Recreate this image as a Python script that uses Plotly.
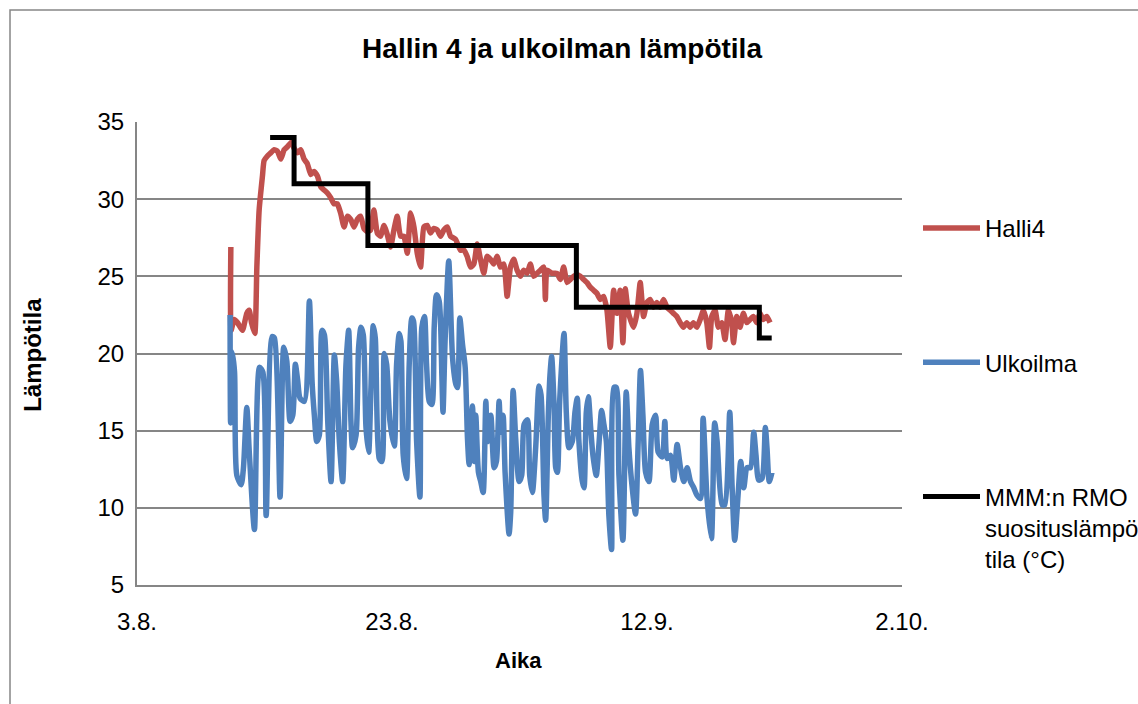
import plotly.graph_objects as go

# x values: days since 3.8.
tick_vals = [0, 20, 40, 60]
tick_text = ["3.8.", "23.8.", "12.9.", "2.10."]

halli4_day = [7.36, 7.38, 7.62, 7.88, 8.27, 8.61, 8.80, 8.98, 9.24, 9.40, 9.58, 9.84, 9.97, 10.23,
              10.49, 10.75, 11.02, 11.28, 11.54, 11.80, 12.14, 12.32, 12.58, 12.84, 13.10, 13.36,
              13.63, 13.89, 14.15, 14.41, 14.67, 14.93, 15.19, 15.45, 15.71, 15.97, 16.24, 16.50,
              16.76, 17.02, 17.28, 17.54, 17.80, 18.06, 18.32, 18.58, 18.85, 19.11, 19.37, 19.63,
              19.89, 20.15, 20.41, 20.67, 20.93, 21.20, 21.46, 21.72, 21.98, 22.24, 22.50, 22.76,
              23.02, 23.28, 23.55, 23.81, 24.07, 24.33, 24.59, 24.98, 25.37, 25.63, 25.89, 26.16,
              26.42, 26.68, 26.94, 27.20, 27.46, 27.72, 27.98, 28.24, 28.50, 28.77, 29.03, 29.29,
              29.55, 29.81, 30.07, 30.33, 30.59, 30.85, 31.11, 31.38, 31.64, 31.90, 32.03, 32.16,
              32.55, 32.94, 33.20, 33.46, 33.73, 33.99, 34.25, 34.51, 34.77, 35.03, 35.29, 35.55,
              35.81, 36.07, 36.34, 36.60, 36.86, 37.12, 37.38, 37.64, 37.90, 38.11, 38.29, 38.55,
              38.95, 39.21, 39.47, 39.73, 39.99, 40.25, 40.51, 40.77, 41.03, 41.30, 41.56, 41.82,
              42.08, 42.34, 42.60, 42.86, 43.12, 43.38, 43.64, 43.91, 44.17, 44.43, 44.69, 44.90,
              45.08, 45.34, 45.60, 45.86, 46.12, 46.38, 46.65, 46.78, 47.04, 47.30, 47.56, 47.82,
              48.08, 48.34, 48.60, 48.86, 49.13, 49.39, 49.65]
halli4_temp = [26.9, 21.5, 22.2, 22.0, 21.5, 22.6, 22.8, 22.0, 21.3, 25.6, 29.3, 31.5, 32.5, 32.8,
               33.0, 33.2, 33.1, 32.6, 33.2, 33.4, 33.7, 33.3, 33.0, 33.2, 32.6, 32.3,
               31.6, 31.8, 31.5, 30.8, 30.6, 30.4, 30.1, 29.7, 29.7, 29.1, 28.2, 28.9,
               28.7, 28.2, 28.7, 28.9, 28.1, 27.9, 28.0, 29.3, 27.8, 27.6, 28.3, 27.7,
               26.9, 28.0, 28.9, 27.6, 27.6, 26.5, 29.1, 28.2, 26.5, 25.6, 28.2, 28.3,
               27.8, 28.1, 28.0, 27.6, 28.0, 28.2, 27.6, 27.4, 26.7, 26.7, 26.3, 25.6,
               25.8, 27.1, 26.1, 25.2, 26.3, 26.1, 25.8, 26.3, 25.6, 25.8, 23.7, 25.6,
               26.1, 25.4, 25.0, 25.4, 25.2, 25.8, 25.0, 25.2, 25.4, 25.6, 23.5, 25.4,
               25.2, 25.2, 24.8, 25.6, 24.6, 24.8, 25.0, 25.1, 25.0, 24.8, 24.6, 24.3,
               24.1, 23.9, 23.5, 23.7, 22.8, 20.4, 24.1, 22.6, 24.1, 20.7, 24.2, 22.6,
               21.7, 22.6, 24.6, 22.4, 23.3, 23.5, 23.0, 23.3, 23.0, 23.5, 23.0, 22.8,
               22.6, 22.4, 22.0, 21.7, 22.0, 21.7, 22.0, 21.7, 22.2, 22.8, 22.0, 20.4,
               22.4, 22.8, 21.7, 22.0, 20.9, 22.8, 22.0, 20.7, 22.4, 21.7, 22.6, 22.0,
               22.2, 22.4, 22.0, 22.6, 22.2, 22.4, 22.0]

ulkoilma_day = [7.30, 7.34, 7.47, 7.65, 7.83, 8.17, 8.35, 8.61, 8.82, 9.21, 9.61, 9.87, 10.13, 10.60,
                10.78, 11.22, 11.51, 11.75, 12.01, 12.22, 12.42, 12.61, 12.79, 13.13, 13.52, 13.73,
                13.91, 14.10, 14.30, 14.51, 14.70, 14.96, 15.22, 15.48, 15.66, 15.87, 16.13, 16.39,
                16.60, 16.78, 16.91, 17.18, 17.38, 17.57, 17.75, 17.96, 18.17, 18.35, 18.53, 18.69,
                19.00, 19.21, 19.39, 19.58, 19.84, 20.18, 20.36, 20.57, 20.70, 20.88, 21.14, 21.35,
                21.56, 21.69, 21.93, 22.19, 22.34, 22.55, 22.71, 22.92, 23.13, 23.31, 23.49, 23.70,
                23.91, 24.00, 24.17, 24.45, 24.75, 25.01, 25.14, 25.32, 25.53, 25.74, 25.92, 26.05,
                26.31, 26.44, 26.57, 26.78, 26.96, 27.15, 27.36, 27.49, 27.75, 28.01, 28.19, 28.40,
                28.53, 28.71, 28.87, 29.18, 29.31, 29.50, 29.70, 29.97, 30.17, 30.36, 30.62, 30.80,
                31.01, 31.27, 31.53, 31.69, 31.92, 32.05, 32.26, 32.39, 32.52, 32.71, 32.84, 32.97,
                33.15, 33.49, 33.67, 33.88, 34.14, 34.35, 34.53, 34.66, 34.93, 35.06, 35.24, 35.40,
                35.58, 35.76, 36.02, 36.23, 36.44, 36.62, 36.81, 37.01, 37.22, 37.41, 37.59, 37.80,
                38.11, 38.37, 38.58, 38.84, 39.10, 39.31, 39.49, 39.68, 39.89, 40.15, 40.41, 40.67,
                40.88, 41.19, 41.40, 41.58, 41.84, 42.10, 42.36, 42.63, 42.89, 43.15, 43.41, 43.67,
                43.93, 44.19, 44.40, 44.71, 45.05, 45.31, 45.50, 45.89, 46.10, 46.49, 46.67, 46.88,
                47.14, 47.35, 47.59, 47.85, 48.11, 48.37, 48.55, 48.76, 49.02, 49.28, 49.41, 49.59,
                49.80]
ulkoilma_temp = [22.5, 15.5, 20.1, 18.8, 12.1, 11.5, 12.6, 16.5, 13.4, 8.6, 19.1, 18.8, 9.5, 21.1,
                 21.0, 10.7, 20.4, 19.5, 15.6, 16.0, 19.3, 18.2, 17.1, 16.9, 23.4, 18.2,
                 16.0, 14.3, 14.7, 21.5, 21.2, 15.6, 11.7, 19.9, 18.2, 14.3, 11.7, 19.3,
                 21.5, 15.6, 13.9, 14.7, 20.4, 21.7, 21.2, 15.2, 13.6, 17.8, 21.8, 21.0,
                 13.2, 13.0, 20.0, 19.3, 15.6, 14.0, 19.3, 21.3, 20.8, 13.4, 11.9, 19.3,
                 22.3, 22.1, 14.3, 10.7, 21.7, 22.4, 19.3, 16.9, 16.7, 21.7, 23.8, 23.4,
                 18.6, 16.2, 21.0, 26.0, 19.7, 18.0, 17.8, 22.3, 20.6, 19.1, 14.5, 12.8,
                 16.6, 13.0, 16.0, 12.3, 11.7, 11.0, 16.9, 14.3, 16.0, 12.6, 13.0, 16.9,
                 14.9, 16.0, 12.3, 8.3, 9.7, 17.6, 14.5, 11.7, 12.1, 15.4, 15.7, 12.1,
                 11.0, 13.9, 17.9, 17.3, 10.8, 9.2, 16.0, 18.6, 19.8, 16.7, 12.6, 12.3,
                 16.9, 21.3, 16.2, 13.9, 14.3, 16.2, 17.1, 14.3, 11.7, 11.3, 16.2, 17.2,
                 15.2, 13.4, 12.1, 14.1, 16.3, 15.4, 14.3, 9.5, 7.3, 17.8, 17.8, 12.1,
                 7.9, 17.5, 13.9, 11.3, 9.6, 14.3, 18.9, 16.0, 12.3, 11.7, 15.4, 16.0,
                 13.6, 13.3, 15.6, 13.2, 13.4, 11.8, 14.1, 12.6, 11.7, 12.6, 11.7, 11.3,
                 10.8, 10.6, 15.8, 10.6, 8.0, 15.5, 14.3, 10.2, 10.2, 16.2, 11.5, 7.9,
                 10.8, 13.0, 11.3, 12.6, 12.6, 14.9, 13.4, 11.8, 11.9, 15.2, 13.9, 11.7,
                 12.3]

rmo_day = [10.44, 12.32, 18.11, 34.46, 48.81, 49.78]
rmo_temp = [34, 31, 27, 23, 21, 21]

FONT = "Liberation Sans, Arial, sans-serif"

fig = go.Figure()
fig.add_trace(go.Scatter(x=halli4_day, y=halli4_temp, mode="lines", name="Halli4",
                         legendgroup="a",
                         line=dict(color="#C0504D", width=5.5, shape="spline", smoothing=0.5)))
fig.add_trace(go.Scatter(x=ulkoilma_day, y=ulkoilma_temp, mode="lines", name="Ulkoilma",
                         legendgroup="b",
                         line=dict(color="#4F81BD", width=5.5, shape="spline", smoothing=0.7)))
fig.add_trace(go.Scatter(x=rmo_day, y=rmo_temp, mode="lines", line_shape="hv",
                         name="MMM:n RMO<br>suosituslämpö<br>tila (°C)",
                         legendgroup="c",
                         line=dict(color="#000000", width=5)))

fig.update_layout(
    width=1138, height=704,
    margin=dict(l=137, r=236, t=122, b=119, autoexpand=False),
    paper_bgcolor="white", plot_bgcolor="white",
    font=dict(family=FONT, size=24, color="#000000"),
    title=dict(text="<b>Hallin 4 ja ulkoilman lämpötila</b>", x=0.5556, xref="paper",
               xanchor="center", y=1 - 48 / 704, yref="container", yanchor="middle",
               font=dict(size=28, family=FONT)),
    xaxis=dict(range=[0, 60], tickvals=tick_vals, ticktext=tick_text, showgrid=False,
               zeroline=False, showline=True, linecolor="#868686", linewidth=2,
               ticks="", ticklabelstandoff=14, tickfont=dict(size=24)),
    yaxis=dict(range=[5, 35], dtick=5, tick0=5, showgrid=True, gridcolor="#868686",
               gridwidth=2, zeroline=False, showline=True, linecolor="#868686",
               linewidth=2, ticks="", ticklabelstandoff=6, tickfont=dict(size=24)),
    legend=dict(x=918 / 1138, xref="container", xanchor="left",
                y=1 - 206 / 704, yref="container", yanchor="top", valign="top",
                tracegroupgap=100, traceorder="grouped", itemwidth=57, maxheight=600,
                font=dict(size=24), bgcolor="rgba(0,0,0,0)"),
    annotations=[
        dict(text="<b>Aika</b>", x=0.4993, y=-0.162, xref="paper", yref="paper",
             showarrow=False, xanchor="center", yanchor="middle", font=dict(size=22)),
        dict(text="<b>Lämpötila</b>", x=-0.136, y=0.497, xref="paper", yref="paper",
             showarrow=False, textangle=-90, xanchor="center", yanchor="middle",
             font=dict(size=24)),
    ],
    shapes=[dict(type="rect", xref="paper", yref="paper", x0=-0.166, x1=1.324,
                 y0=-0.2916, y1=1.242, line=dict(color="#868686", width=1.5),
                 fillcolor="rgba(0,0,0,0)", layer="below")],
)

fig.write_html("out.html")
